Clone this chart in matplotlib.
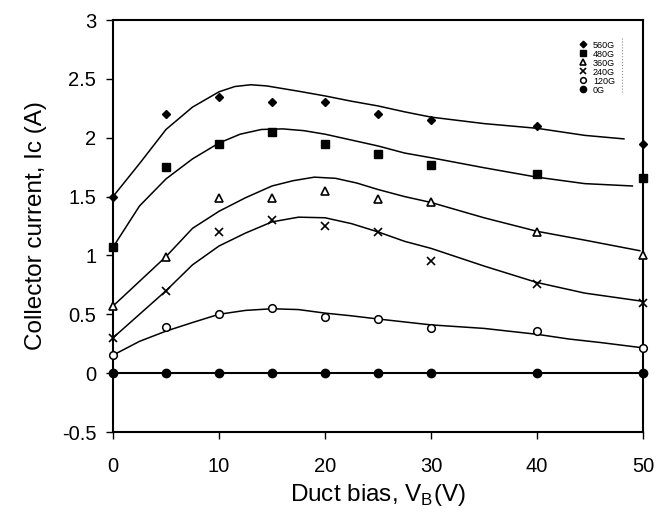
import numpy as np
import matplotlib
matplotlib.use("Agg")
import matplotlib.pyplot as plt
from matplotlib.lines import Line2D

plt.rcParams['font.family'] = ['Liberation Sans', 'DejaVu Sans']

# measured points
vb = [0, 5, 10, 15, 20, 25, 30, 40, 50]
ic_560 = [1.50, 2.20, 2.35, 2.30, 2.30, 2.20, 2.15, 2.10, 1.95]
ic_480 = [1.07, 1.75, 1.95, 2.05, 1.95, 1.86, 1.77, 1.69, 1.655]
ic_360 = [0.57, 0.99, 1.49, 1.49, 1.55, 1.48, 1.45, 1.20, 1.00]
ic_240 = [0.30, 0.70, 1.20, 1.30, 1.25, 1.20, 0.95, 0.76, 0.60]
ic_120 = [0.15, 0.39, 0.50, 0.55, 0.48, 0.46, 0.38, 0.355, 0.21]
ic_0 = [0, 0, 0, 0, 0, 0, 0, 0, 0]

# fitted curves
fit_x_560 = [0, 2.5, 5, 7.5, 10, 11.5, 13, 14.5, 17.5, 20, 22.5, 25, 27.5, 30, 35, 40, 44.5, 48.2]
fit_y_560 = [1.50, 1.78, 2.07, 2.26, 2.39, 2.435, 2.45, 2.44, 2.395, 2.355, 2.31, 2.27, 2.22, 2.175, 2.12, 2.08, 2.02, 1.99]
fit_x_480 = [0, 2.5, 5, 7.5, 10, 12, 14, 16, 18, 20, 22.5, 25, 27.5, 30, 35, 40, 44.5, 49]
fit_y_480 = [1.07, 1.42, 1.65, 1.82, 1.955, 2.03, 2.07, 2.075, 2.06, 2.03, 1.98, 1.93, 1.87, 1.83, 1.745, 1.665, 1.61, 1.59]
fit_x_360 = [0, 2.5, 5, 7.5, 10, 12.5, 15, 17, 19, 21, 23, 25, 27.5, 30, 35, 40, 44.5, 49.7]
fit_y_360 = [0.57, 0.78, 0.99, 1.23, 1.375, 1.49, 1.59, 1.635, 1.665, 1.655, 1.615, 1.56, 1.50, 1.45, 1.32, 1.205, 1.13, 1.04]
fit_x_240 = [0, 2.5, 5, 7.5, 10, 12.5, 15, 17.5, 20, 22.5, 25, 27.5, 30, 35, 40, 44.5, 50]
fit_y_240 = [0.30, 0.50, 0.70, 0.92, 1.08, 1.19, 1.285, 1.325, 1.32, 1.27, 1.20, 1.12, 1.06, 0.91, 0.77, 0.68, 0.61]
fit_x_120 = [0, 2.5, 5, 7.5, 10, 12.5, 15, 17.5, 20, 22.5, 25, 30, 35, 40, 43, 46, 50]
fit_y_120 = [0.153, 0.27, 0.357, 0.43, 0.50, 0.533, 0.547, 0.54, 0.51, 0.487, 0.46, 0.41, 0.38, 0.33, 0.29, 0.26, 0.215]

labels = ["560G", "480G", "360G", "240G", "120G", "0G"]

fig = plt.figure(figsize=(6.66, 5.14), dpi=100)
ax = fig.add_axes([113/666, 1 - 432/514, (643 - 113)/666, (432 - 20)/514])

for fx, fy in [(fit_x_560, fit_y_560), (fit_x_480, fit_y_480), (fit_x_360, fit_y_360),
               (fit_x_240, fit_y_240), (fit_x_120, fit_y_120)]:
    ax.plot(fx, fy, color='black', lw=1.1)
ax.plot(vb, ic_0, color='black', lw=1.5, clip_on=False)

styles = [
    dict(marker='D', ms=4.5, mfc='black', mec='black'),
    dict(marker='s', ms=6, mfc='black', mec='black'),
    dict(marker='^', ms=6, mfc='white', mec='black', mew=1.2),
    dict(marker='x', ms=6, mec='black', mew=1.2),
    dict(marker='o', ms=5.5, mfc='white', mec='black', mew=1.1),
    dict(marker='o', ms=6, mfc='black', mec='black'),
]
series = [ic_560, ic_480, ic_360, ic_240, ic_120, ic_0]
for ys, st in zip(series, styles):
    ax.plot(vb, ys, linestyle='none', clip_on=False, zorder=5, **st)

ax.set_xlim(0, 50)
ax.set_ylim(-0.5, 3)
ax.set_xticks([0, 10, 20, 30, 40, 50])
ax.set_yticks([-0.5, 0, 0.5, 1, 1.5, 2, 2.5, 3])
ax.set_yticklabels(["-0.5", "0", "0.5", "1", "1.5", "2", "2.5", "3"])
ax.tick_params(axis='both', labelsize=14.5, length=5, width=1, direction='out')
ax.tick_params(axis='y', pad=7)
ax.tick_params(axis='x', pad=13)
for s in ax.spines.values():
    s.set_linewidth(1.5)

ax.set_xlabel("Duct bias, V$_\\mathregular{B}$(V)", fontsize=17.5, labelpad=4)
ax.set_ylabel("Collector current, Ic (A)", fontsize=17.5, labelpad=11)

handles = [Line2D([], [], linestyle='none', **dict(st, ms=st['ms'] * 0.75)) for st in styles]
leg = ax.legend(handles, labels, loc='upper left', bbox_to_anchor=(574/666, 1 - 36/514),
                bbox_transform=fig.transFigure, frameon=False, fontsize=6.5,
                labelspacing=0.0, handlelength=1.0, handletextpad=0.6, borderpad=0.0)

# faint edge of the legend box
fig.add_artist(Line2D([622/666, 622/666], [1 - 38/514, 1 - 92/514], transform=fig.transFigure,
                      color='0.55', lw=0.8, linestyle=':'))

fig.savefig("out.png", dpi=100)
